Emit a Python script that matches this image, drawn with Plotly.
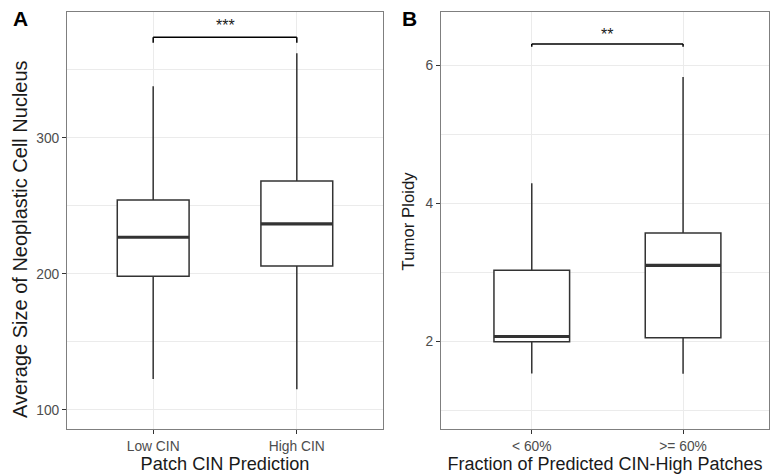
import plotly.graph_objects as go

# Panel A: nucleus size by patch CIN prediction
a_labels = ["Low CIN", "High CIN"]
a_lower = [122.8, 115.2]
a_q1 = [198.3, 205.9]
a_median = [227.0, 236.8]
a_q3 = [254.4, 268.4]
a_upper = [338.0, 362.3]

# Panel B: tumor ploidy by fraction of CIN-high patches
b_labels = ["< 60%", ">= 60%"]
b_lower = [1.535, 1.53]
b_q1 = [1.995, 2.05]
b_median = [2.07, 3.10]
b_q3 = [3.03, 3.57]
b_upper = [4.29, 5.83]

BOX_W = 0.5
LINE = "#333333"
GRID = "#ebebeb"
FONT = "Liberation Sans, Arial, sans-serif"

fig = go.Figure()


def add_panel(labels, lower, q1, med, q3, upper, xa, ya):
    xs = list(range(1, len(labels) + 1))
    fig.add_trace(go.Box(
        x=xs, lowerfence=lower, q1=q1, median=med, q3=q3, upperfence=upper,
        width=BOX_W, whiskerwidth=0, fillcolor="white",
        line=dict(color=LINE, width=1.5), boxpoints=False,
        xaxis=xa, yaxis=ya, showlegend=False, hoverinfo="skip",
    ))
    # thicker median bar, as in ggplot's default
    for x, m in zip(xs, med):
        fig.add_trace(go.Scatter(
            x=[x - BOX_W / 2, x + BOX_W / 2], y=[m, m], mode="lines",
            line=dict(color=LINE, width=3.2), xaxis=xa, yaxis=ya,
            showlegend=False, hoverinfo="skip",
        ))
    return xs


xa_pos = add_panel(a_labels, a_lower, a_q1, a_median, a_q3, a_upper, "x", "y")
xb_pos = add_panel(b_labels, b_lower, b_q1, b_median, b_q3, b_upper, "x2", "y2")

W, H = 770, 474
ydom = [(H - 429) / H, (H - 12) / H]

axis_common = dict(
    showline=True, mirror=True, linecolor="#7f7f7f", linewidth=1,
    ticks="outside", ticklen=4, tickcolor=LINE, tickwidth=1,
    gridcolor=GRID, gridwidth=1, zeroline=False,
    tickfont=dict(family=FONT, size=13.8, color="#4d4d4d"),
)


def xtitle(text, size):
    return dict(text=text, standoff=3,
                font=dict(family=FONT, size=size, color="#1a1a1a"))


fig.update_layout(
    width=W, height=H, margin=dict(l=0, r=0, t=0, b=0),
    paper_bgcolor="white", plot_bgcolor="white",
    xaxis=dict(domain=[67 / W, 383 / W], range=[0.4, 2.6],
               tickvals=xa_pos, ticktext=a_labels,
               title=xtitle("Patch CIN Prediction", 18.2), **axis_common),
    yaxis=dict(domain=ydom, range=[86, 392.6], tickvals=[100, 200, 300],
               minor=dict(showgrid=True, gridcolor=GRID, gridwidth=0.6,
                          tickvals=[150, 250, 350], ticks=""),
               **axis_common),
    xaxis2=dict(domain=[441 / W, 769 / W], range=[0.4, 2.568], anchor="y2",
                tickvals=xb_pos, ticktext=b_labels,
                title=xtitle("Fraction of Predicted CIN-High Patches", 18),
                **axis_common),
    yaxis2=dict(domain=ydom, range=[0.73, 6.77], anchor="x2", tickvals=[2, 4, 6],
                minor=dict(showgrid=True, gridcolor=GRID, gridwidth=0.6,
                           tickvals=[1, 3, 5], ticks=""),
                **axis_common),
)

# y-axis titles
for txt, px, py, size in (("Average Size of Neoplastic Cell Nucleus", 20, 239, 20),
                          ("Tumor Ploidy", 408, 220.5, 16.8)):
    fig.add_annotation(xref="paper", yref="paper", x=px / W, y=(H - py) / H,
                       xanchor="center", yanchor="middle", textangle=-90,
                       text=txt, showarrow=False,
                       font=dict(family=FONT, size=size, color="#1a1a1a"))


# significance brackets
def bracket(xa, ya, x0, x1, y, drop, label, ytext):
    for seg in ([x0, y - drop, x0, y], [x0, y, x1, y], [x1, y, x1, y - drop]):
        fig.add_shape(type="line", xref=xa, yref=ya,
                      x0=seg[0], y0=seg[1], x1=seg[2], y1=seg[3],
                      line=dict(color="black", width=1.5))
    fig.add_annotation(xref=xa, yref=ya, x=(x0 + x1) / 2, y=ytext, text=label,
                       xanchor="center", yanchor="middle", showarrow=False,
                       font=dict(family=FONT, size=16, color="#1a1a1a"))


bracket("x", "y", 1, 2, 374, 4, "***", 382.5)
bracket("x2", "y2", 1, 2, 6.305, 0.04, "**", 6.45)

# panel tags
for txt, px in (("A", 20.5), ("B", 410)):
    fig.add_annotation(xref="paper", yref="paper", x=px / W, y=(H - 19) / H,
                       xanchor="center", yanchor="middle",
                       text="<b>%s</b>" % txt, showarrow=False,
                       font=dict(family=FONT, size=21, color="black"))

fig.write_html("out.html")
